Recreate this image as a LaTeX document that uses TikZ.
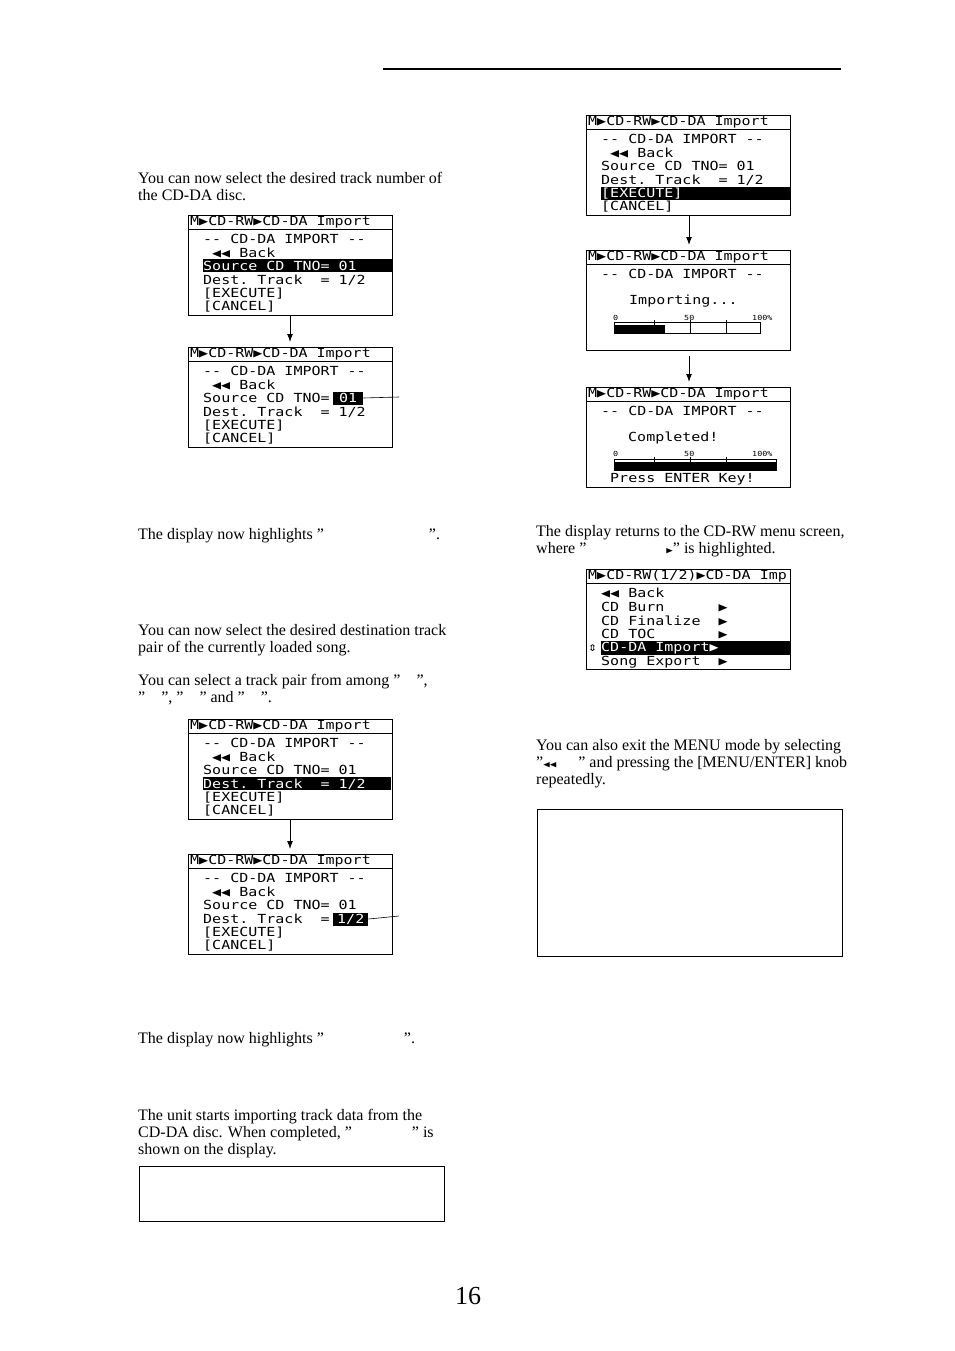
\documentclass[tikz,border=0pt]{standalone}
\usepackage{fontspec}
\setmainfont{Liberation Serif}
\newfontfamily\lcdface[FakeStretch=1.2]{DejaVu Sans Mono}
\usetikzlibrary{arrows.meta,positioning}
\newcommand\lcdfont{\lcdface\fontsize{12.5}{13}\selectfont}
\newcommand\bodyfont{\fontsize{16}{17}\selectfont}
\tikzset{
	lcd/.style={draw,line width=0.7pt},
	ln/.style={anchor=west,inner sep=0pt,font=\lcdfont},
	hl/.style={fill=black,text=white},
	body/.style={anchor=north west,inner sep=0pt,font=\bodyfont,align=left},
	down/.style={-{Latex[length=8pt,width=6pt]},line width=1pt},
	lead/.style={line width=0.6pt},
	scl/.style={ln,font=\lcdface\fontsize{7}{7}\selectfont}
}
% one LCD frame with its title row
\newcommand\lcdframe[3]{%
	\draw[lcd] (#2,#3) rectangle ++(204,100);
	\draw[lcd] (#2,#3+14) -- ++(204,0);
	\node[ln] (#1t) at (#2+2,#3+7) {M▶CD-RW▶CD-DA~Import};
}
\begin{document}
\begin{tikzpicture}[x=1pt,y=-1pt]
\useasboundingbox (0,0) rectangle (954,1351);
\draw[line width=1.5pt] (383,69) -- (841,69);

%% left column
\node[body] (t1) at (138,172) {You can now select the desired track number of\\the CD-DA disc.};

\lcdframe{a}{188}{215}
\fill (203,259) rectangle (392,272);
\node[ln] (a1) at (203,239) {--~CD-DA~IMPORT~--};
\node[ln] (a2) at (212,253) {◀◀~Back};
\node[ln,text=white] (a3) at (203,266) {Source~CD~TNO=~01};
\node[ln] (a4) at (203,280) {Dest.~Track~~=~1/2};
\node[ln] (a5) at (203,294) {[EXECUTE]};
\node[ln] (a6) at (203,307) {[CANCEL]};

\lcdframe{b}{188}{347}
\node[ln] (b1) at (203,371) {--~CD-DA~IMPORT~--};
\node[ln] (b2) at (212,385) {◀◀~Back};
\node[ln] (b3) at (203,398) {Source~CD~TNO=};
\node[ln,hl,inner xsep=6pt,minimum height=13pt] (b3v) at (333,398) {01};
\node[ln] (b4) at (203,412) {Dest.~Track~~=~1/2};
\node[ln] (b5) at (203,426) {[EXECUTE]};
\node[ln] (b6) at (203,439) {[CANCEL]};
\coordinate (b3e) at (399,397);
\draw[lead] (b3v.east) -- (b3e);
\draw[down] (290,316) -- (290,342);

\node[body] (t2) at (138,528) {The display now highlights "\hspace{105pt}".};
\node[body] (t3) at (138,624) {You can now select the desired destination track\\pair of the currently loaded song.};
\node[body] (t4) at (138,674) {You can select a track pair from among "\hspace{16pt}",\\"\hspace{16pt}", "\hspace{16pt}" and "\hspace{16pt}".};

\lcdframe{c}{188}{719}
\fill (203,777) rectangle (391,790);
\node[ln] (c1) at (203,743) {--~CD-DA~IMPORT~--};
\node[ln] (c2) at (212,757) {◀◀~Back};
\node[ln] (c3) at (203,770) {Source~CD~TNO=~01};
\node[ln,text=white] (c4) at (203,784) {Dest.~Track~~=~1/2};
\node[ln] (c5) at (203,798) {[EXECUTE]};
\node[ln] (c6) at (203,811) {[CANCEL]};

\lcdframe{d}{188}{854}
\node[ln] (d1) at (203,878) {--~CD-DA~IMPORT~--};
\node[ln] (d2) at (212,892) {◀◀~Back};
\node[ln] (d3) at (203,905) {Source~CD~TNO=~01};
\node[ln] (d4) at (203,919) {Dest.~Track~~=};
\node[ln,hl,inner xsep=4pt,minimum height=13pt] (d4v) at (333,919) {1/2};
\node[ln] (d5) at (203,933) {[EXECUTE]};
\node[ln] (d6) at (203,946) {[CANCEL]};
\coordinate (d4e) at (399,916);
\draw[lead] (d4v.east) -- (d4e);
\draw[down] (290,819) -- (290,849);

\node[body] (t5) at (138,1032) {The display now highlights "\hspace{80pt}".};
\node[body] (t6) at (138,1109) {The unit starts importing track data from the\\CD-DA disc. When completed, "\hspace{60pt}" is\\shown on the display.};
\draw[lead] (139,1166) rectangle (444,1221);

%% right column
\lcdframe{e}{586}{115}
\fill (601,187) rectangle (790,200);
\node[ln] (e1) at (601,139) {--~CD-DA~IMPORT~--};
\node[ln] (e2) at (610,153) {◀◀~Back};
\node[ln] (e3) at (601,166) {Source~CD~TNO=~01};
\node[ln] (e4) at (601,180) {Dest.~Track~~=~1/2};
\node[ln,text=white] (e5) at (601,194) {[EXECUTE]};
\node[ln] (e6) at (601,207) {[CANCEL]};
\draw[down] (689,216) -- (689,245);

\lcdframe{f}{586}{250}
\node[ln] (f1) at (601,274) {--~CD-DA~IMPORT~--};
\node[ln] (f2) at (629,301) {Importing...};
\node[scl] (f0) at (613,318) {0};
\node[scl] (f50) at (684,318) {50};
\node[scl] (f100) at (752,318) {100\%};
\draw[lead] (614,322) rectangle (760,333);
\fill (614,325) rectangle (665,333);
\foreach \tx in {654,690,726} \draw[lead] (\tx,320) -- (\tx,333);
\draw[down] (689,356) -- (689,382);

\lcdframe{g}{586}{387}
\node[ln] (g1) at (601,411) {--~CD-DA~IMPORT~--};
\node[ln] (g2) at (628,438) {Completed!};
\node[scl] (g0) at (613,454) {0};
\node[scl] (g50) at (684,454) {50};
\node[scl] (g100) at (752,454) {100\%};
\draw[lead] (614,459) rectangle (776,470);
\fill (614,462) rectangle (776,470);
\foreach \tx in {654,690,726} \draw[lead] (\tx,457) -- (\tx,470);
\node[ln] (g3) at (610,479) {Press~ENTER~Key!};

\node[body] (t7) at (536,525) {The display returns to the CD-RW menu screen,\\where "\hspace{80pt}{\lcdface\fontsize{9}{9}\selectfont ▶}" is highlighted.};

\draw[lcd] (586,569) rectangle ++(204,100);
\draw[lcd] (586,583) -- ++(204,0);
\node[ln] (ht) at (588,576) {M▶CD-RW(1/2)▶CD-DA~Imp};
\fill (601,641) rectangle (790,655);
\node[ln] (h1) at (601,593) {◀◀~Back};
\node[ln] (h2) at (601,607) {CD~Burn~~~~~~▶};
\node[ln] (h3) at (601,621) {CD~Finalize~~▶};
\node[ln] (h4) at (601,634) {CD~TOC~~~~~~~▶};
\node[ln] (h0) at (588,648) {⇕};
\node[ln,text=white] (h5) at (601,648) {CD-DA~Import▶};
\node[ln] (h6) at (601,662) {Song~Export~~▶};

\node[body] (t8) at (536,739) {You can also exit the MENU mode by selecting\\"{\lcdface\fontsize{9}{9}\selectfont ◀◀}\hspace{22pt}" and pressing the [MENU/ENTER] knob\\repeatedly.};
\draw[lead] (537,809) rectangle (842,956);

\node[font=\fontsize{26}{26}\selectfont] (pg) at (468,1296) {16};
\end{tikzpicture}
\end{document}
